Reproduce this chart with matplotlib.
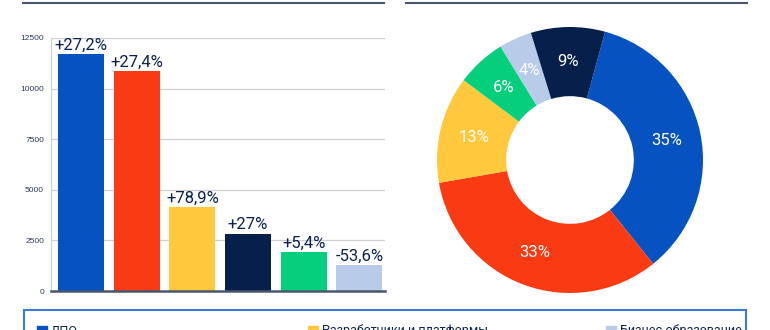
import matplotlib.pyplot as plt
from matplotlib.patches import Rectangle
from matplotlib.lines import Line2D

plt.rcParams['font.family'] = ['Roboto', 'DejaVu Sans']

# цвета сегментов
BLUE = '#0652c0'
RED = '#f93a13'
YELLOW = '#ffc83d'
NAVY = '#071f4b'
GREEN = '#05cf7c'
LIGHT = '#b8cbe8'
TEXT = '#0b2150'

# столбцы (слева)
bar_values = [11700, 10880, 4150, 2840, 1930, 1260]
bar_growth = ['+27,2%', '+27,4%', '+78,9%', '+27%', '+5,4%', '-53,6%']
bar_colors = [BLUE, RED, YELLOW, NAVY, GREEN, LIGHT]
y_ticks = [0, 2500, 5000, 7500, 10000, 12500]

# кольцо (справа), по часовой стрелке от верха
pie_shares = [35, 33, 13, 6, 4, 9]
pie_colors = [BLUE, RED, YELLOW, GREEN, LIGHT, NAVY]

# видимая часть легенды
legend_names = ['ДПО', 'Разработчики и платформы', 'Бизнес-образование']
legend_colors = [BLUE, YELLOW, LIGHT]

W, H = 770, 330
fig = plt.figure(figsize=(W / 100, H / 100), dpi=100)


def fx(px):
    return px / W


def fy(py):
    return 1 - py / H


# --- столбчатая диаграмма ---
ax = fig.add_axes([fx(51), fy(291), fx(385) - fx(51), fy(38) - fy(291)])
x = range(len(bar_values))
bars = ax.bar(x, bar_values, width=0.83, color=bar_colors, zorder=3)
ax.bar_label(bars, labels=bar_growth, padding=1, fontsize=12, color=TEXT)
ax.set_xlim(-0.54, 5.46)
ax.set_ylim(0, 12500)
ax.set_yticks(y_ticks)
ax.set_yticklabels([str(t) for t in y_ticks], fontsize=6, color='#2b3a5a',
                   family=['Liberation Sans', 'DejaVu Sans'])
ax.set_xticks([])
ax.tick_params(axis='y', length=0, pad=5)
ax.grid(axis='y', color='#d0d0d0', linewidth=0.9, zorder=0)
for s in ['top', 'right']:
    ax.spines[s].set_visible(False)
ax.spines['left'].set_color('#d0d0d0')
ax.spines['bottom'].set_color('#4a5670')
ax.spines['bottom'].set_linewidth(1.8)
ax.spines['bottom'].set_zorder(4)

# --- кольцевая диаграмма ---
ax2 = fig.add_axes([fx(437), fy(293), fx(703) - fx(437), fy(27) - fy(293)])
ax2.pie(pie_shares, colors=pie_colors, startangle=74.7, counterclock=False,
        radius=1, wedgeprops=dict(width=0.52, linewidth=0),
        autopct='%d%%', pctdistance=0.74,
        textprops=dict(color='white', fontsize=12))
ax2.set_xlim(-1, 1)
ax2.set_ylim(-1, 1)
ax2.set_aspect('auto')
ax2.axis('off')

# линии сверху
fig.add_artist(Line2D([fx(23), fx(384)], [fy(3), fy(3)], color='#4a5670', lw=1.5))
fig.add_artist(Line2D([fx(406), fx(747)], [fy(3), fy(3)], color='#4a5670', lw=1.5))

# рамка легенды (обрезана снизу)
fig.add_artist(Rectangle((fx(24), fy(360)), fx(746) - fx(24), fy(310) - fy(360),
                         transform=fig.transFigure, fill=False,
                         edgecolor='#3b7ad6', lw=1.5))
for px, name, c in zip([37, 308, 606], legend_names, legend_colors):
    fig.add_artist(Rectangle((fx(px), fy(336)), fx(10), fy(326) - fy(336),
                             transform=fig.transFigure, color=c))
    fig.text(fx(px + 14), fy(331), name, fontsize=9, color=TEXT, va='center')

fig.savefig('out.png', dpi=100)
